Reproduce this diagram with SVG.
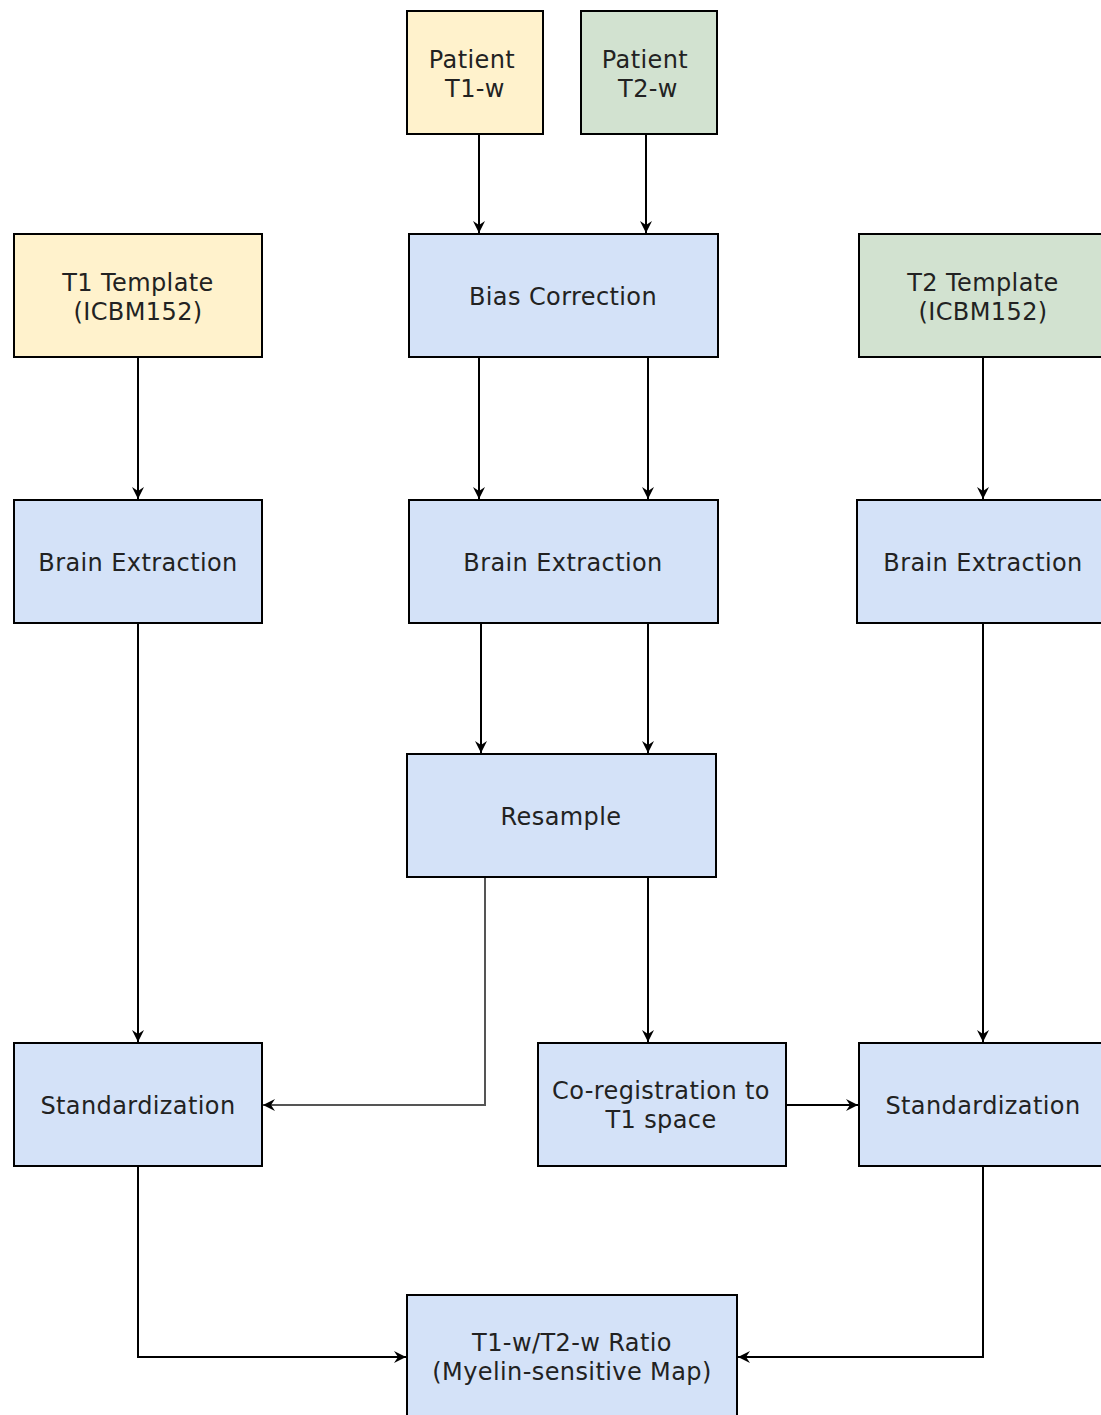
<svg xmlns="http://www.w3.org/2000/svg" width="1101" height="1415" viewBox="0 0 1101 1415">
<style>
.n rect{stroke:#000;stroke-width:2}
.b{fill:#d4e2f8}
.y{fill:#fff2cc}
.g{fill:#d2e2d0}
text{font-family:"DejaVu Sans",Verdana,sans-serif;font-size:24px;letter-spacing:0.4px;fill:#222;text-anchor:middle}
.e path{fill:none;stroke:#000;stroke-width:2}
</style>
<defs>
<marker id="a" viewBox="-12 -7 13 14" refX="0" refY="0" markerWidth="13" markerHeight="14" orient="auto" markerUnits="userSpaceOnUse">
<path d="M-12,-6 L0,0 L-12,6 L-8,0 Z" fill="#000" stroke="none"/>
</marker>
</defs>
<rect width="1101" height="1415" fill="#fff"/>
<g class="e">
<path d="M479,135 V233" marker-end="url(#a)"/>
<path d="M646,135 V233" marker-end="url(#a)"/>
<path d="M138,358 V499" marker-end="url(#a)"/>
<path d="M479,358 V499" marker-end="url(#a)"/>
<path d="M648,358 V499" marker-end="url(#a)"/>
<path d="M983,358 V499" marker-end="url(#a)"/>
<path d="M138,624 V1042" marker-end="url(#a)"/>
<path d="M481,624 V753" marker-end="url(#a)"/>
<path d="M648,624 V753" marker-end="url(#a)"/>
<path d="M983,624 V1042" marker-end="url(#a)"/>
<path d="M485,878 V1105 H263" marker-end="url(#a)" style="stroke:#555"/>
<path d="M648,878 V1042" marker-end="url(#a)"/>
<path d="M787,1105 H858" marker-end="url(#a)"/>
<path d="M138,1167 V1357 H406" marker-end="url(#a)"/>
<path d="M983,1167 V1357 H738" marker-end="url(#a)"/>
</g>
<g id="patient-t1" class="n"><rect class="y" x="407" y="11" width="136" height="123"/><text x="472" y="68">Patient</text><text x="475" y="97">T1-w</text></g>
<g id="patient-t2" class="n"><rect class="g" x="581" y="11" width="136" height="123"/><text x="645" y="68">Patient</text><text x="648" y="97">T2-w</text></g>
<g id="t1-template" class="n"><rect class="y" x="14" y="234" width="248" height="123"/><text x="138" y="291">T1 Template</text><text x="138" y="320">(ICBM152)</text></g>
<g id="bias-correction" class="n"><rect class="b" x="409" y="234" width="309" height="123"/><text x="563" y="305">Bias Correction</text></g>
<g id="t2-template" class="n"><rect class="g" x="859" y="234" width="248" height="123"/><text x="983" y="291">T2 Template</text><text x="983" y="320">(ICBM152)</text></g>
<g id="brain-extraction-left" class="n"><rect class="b" x="14" y="500" width="248" height="123"/><text x="138" y="571">Brain Extraction</text></g>
<g id="brain-extraction-center" class="n"><rect class="b" x="409" y="500" width="309" height="123"/><text x="563" y="571">Brain Extraction</text></g>
<g id="brain-extraction-right" class="n"><rect class="b" x="857" y="500" width="250" height="123"/><text x="983" y="571">Brain Extraction</text></g>
<g id="resample" class="n"><rect class="b" x="407" y="754" width="309" height="123"/><text x="561" y="825">Resample</text></g>
<g id="standardization-left" class="n"><rect class="b" x="14" y="1043" width="248" height="123"/><text x="138" y="1114">Standardization</text></g>
<g id="coregistration" class="n"><rect class="b" x="538" y="1043" width="248" height="123"/><text x="661" y="1099">Co-registration to</text><text x="661" y="1128">T1 space</text></g>
<g id="standardization-right" class="n"><rect class="b" x="859" y="1043" width="248" height="123"/><text x="983" y="1114">Standardization</text></g>
<g id="ratio" class="n"><rect class="b" x="407" y="1295" width="330" height="130"/><text x="572" y="1351">T1-w/T2-w Ratio</text><text x="572" y="1380">(Myelin-sensitive Map)</text></g>
</svg>
